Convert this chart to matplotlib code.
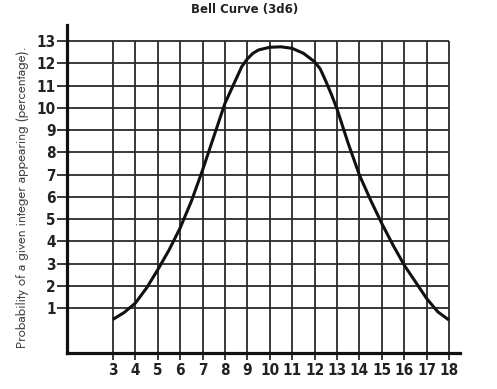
import matplotlib
matplotlib.use('Agg')
import matplotlib.pyplot as plt

# 3d6 sums and the percentage (half steps as drawn)
sums = [3, 3.5, 4, 4.5, 5, 5.5, 6, 6.5, 7, 7.5, 8, 8.5, 8.75, 9, 9.25, 9.5, 10,
        10.5, 11, 11.5, 12, 12.25, 12.5, 12.75, 13, 13.5, 14, 14.5, 15, 15.5,
        16, 16.5, 17, 17.5, 18]
percent = [0.49, 0.8, 1.22, 1.9, 2.72, 3.6, 4.6, 5.8, 7.2, 8.7, 10.2, 11.3, 11.85,
           12.2, 12.45, 12.6, 12.72, 12.74, 12.67, 12.45, 12.07, 11.75, 11.2, 10.6,
           9.95, 8.4, 6.98, 5.85, 4.8, 3.83, 2.93, 2.18, 1.43, 0.83, 0.46]

x_ticks = list(range(3, 19))
y_ticks = list(range(1, 14))

title = 'Bell Curve (3d6)'
y_label = 'Probability of a given integer appearing (percentage).'

fig = plt.figure(figsize=(4.97, 3.89), dpi=100)
ax = fig.add_axes([67 / 497, 36 / 389, (460 - 67) / 497, (353 - 25) / 389])

ax.set_xlim(0.95, 18.49)
ax.set_ylim(-1.02, 13.72)

grid_col = '#2a2a2a'
# grid only covers the 3..18 / 1..13 area
ax.hlines(y_ticks, 0.95, 18, color=grid_col, lw=1.3, zorder=1)
ax.vlines(x_ticks, -1.02, 13, color=grid_col, lw=1.3, zorder=1)

ax.plot(sums, percent, color='#111111', lw=2.2, solid_joinstyle='round',
        solid_capstyle='butt', zorder=3)

for s in ['top', 'right']:
    ax.spines[s].set_visible(False)
for s in ['left', 'bottom']:
    ax.spines[s].set_linewidth(2.3)
    ax.spines[s].set_color('#111111')

ax.set_xticks(x_ticks)
ax.set_yticks(y_ticks)
ax.tick_params(axis='x', direction='out', length=5, width=1.3, color=grid_col, pad=2)
ax.tick_params(axis='y', direction='out', length=7, width=1.3, color=grid_col, pad=1)
for lab in ax.get_xticklabels() + ax.get_yticklabels():
    lab.set_family('DejaVu Sans')
    lab.set_fontstretch('condensed')
    lab.set_fontweight('bold')
    lab.set_fontsize(11)
    lab.set_color('#222222')

fig.text(245 / 497, 1 - 10 / 389, title, ha='center', va='center',
         fontsize=8.5, fontweight='bold', color='#222222')
fig.text(23 / 497, 1 - 197 / 389, y_label, rotation=90, ha='center', va='center',
         fontsize=9.5, family=['Jost', 'DejaVu Sans'], color='#444444')

fig.savefig('out.png', dpi=100)
